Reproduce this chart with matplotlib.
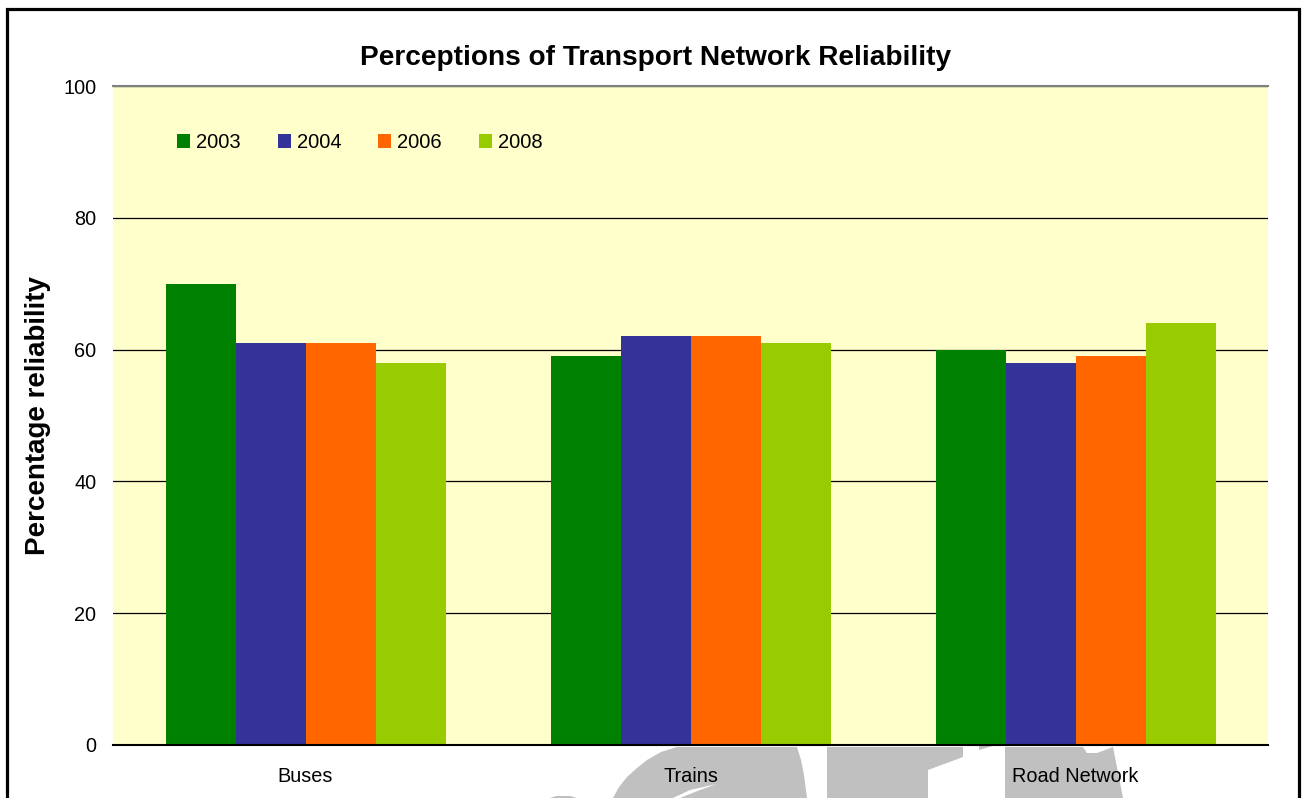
import matplotlib
matplotlib.use("Agg")
import matplotlib.pyplot as plt
import numpy as np
from matplotlib.patches import Polygon, Rectangle

plt.rcParams['font.family'] = ['Liberation Sans', 'DejaVu Sans']

# ---- data ----
categories = ["Buses", "Trains", "Road Network"]
years = ["2003", "2004", "2006", "2008"]
values_2003 = [70, 59, 60]
values_2004 = [61, 62, 58]
values_2006 = [61, 62, 59]
values_2008 = [58, 61, 64]
series = [values_2003, values_2004, values_2006, values_2008]
colors = ["#008000", "#333399", "#FF6600", "#99CC00"]
yticks = [0, 20, 40, 60, 80, 100]

W, H = 1305, 798
fig = plt.figure(figsize=(W / 100, H / 100), dpi=100)

def px(x, y):
    return (x / W, 1 - y / H)

# decorative watermark shapes (grey) below the plot area
wm_color = "#C0C0C0"
shapes = [
    [(613, 798), (619, 787), (627, 777), (637, 768), (647, 760), (661, 752),
     (677, 747), (797, 747), (801, 760), (804, 775), (807, 798)],
    [(550, 798), (556, 796), (570, 796), (577, 798)],
    [(827, 747), (963, 747), (963, 757), (928, 770), (928, 798), (827, 798)],
    [(979, 746), (993, 746), (979, 750)],
    [(1005, 747), (1083, 747), (1087, 753), (1097, 753), (1113, 747),
     (1123, 798), (1005, 798)],
]
for s in shapes:
    fig.add_artist(Polygon([px(*p) for p in s], closed=True, facecolor=wm_color,
                           edgecolor="none", transform=fig.transFigure, zorder=0))
# thin white streak inside the crescent
fig.add_artist(Polygon([px(*p) for p in [(673, 798), (690, 790), (717, 784),
                                         (700, 790), (680, 798)]],
                       closed=True, facecolor="white", edgecolor="none",
                       transform=fig.transFigure, zorder=0.5))

# outer border
x0, y0 = px(7, 9)
x1, _ = px(1299, 9)
fig.add_artist(Rectangle((x0, -0.05), x1 - x0, y0 + 0.05, fill=False,
                         edgecolor="black", linewidth=2.3,
                         transform=fig.transFigure, zorder=0))

ax = fig.add_axes([113 / W, (798 - 745) / H, (1268 - 113) / W, (745 - 86) / H])
ax.set_zorder(1)
ax.set_facecolor("#FFFFCC")

x = np.arange(len(categories))
bw = 70 / 385
for i, (vals, c, lab) in enumerate(zip(series, colors, years)):
    ax.bar(x + (i - 1.5) * bw, vals, width=bw, color=c, label=lab, zorder=2)

ax.set_xlim(-0.5, len(categories) - 0.5)
ax.set_ylim(0, 100)
ax.set_yticks(yticks)
ax.set_yticklabels([str(t) for t in yticks])
ax.set_xticks(x)
ax.set_xticklabels(categories)
ax.tick_params(axis='y', length=0, pad=12, labelsize=14.3)
ax.tick_params(axis='x', length=0, pad=16, labelsize=14.3)

ax.yaxis.grid(True, color="black", linewidth=0.9, zorder=1)
ax.set_axisbelow(True)
for sp in ["left", "right"]:
    ax.spines[sp].set_visible(False)
ax.spines["top"].set_color("#808080")
ax.spines["top"].set_linewidth(1.5)
ax.spines["bottom"].set_color("black")
ax.spines["bottom"].set_linewidth(1.5)
ax.spines["bottom"].set_zorder(3)

fs = 14.5
fpx = fs * 100 / 72
ax.legend(ncol=4, frameon=False, loc='center left',
          bbox_to_anchor=((177 - 113) / 1155, (745 - 142.5) / 659),
          fontsize=fs, handlelength=13 / fpx, handleheight=13 / fpx,
          handletextpad=6 / fpx, columnspacing=37 / fpx,
          borderpad=0, borderaxespad=0)

fig.text(655.5 / W, 1 - 58 / H, "Perceptions of Transport Network Reliability",
         ha="center", va="center", fontsize=20.2, fontweight="bold")
fig.text(38 / W, 1 - 416 / H, "Percentage reliability", rotation=90,
         ha="center", va="center", fontsize=20, fontweight="bold")

fig.savefig("out.png", dpi=100)
